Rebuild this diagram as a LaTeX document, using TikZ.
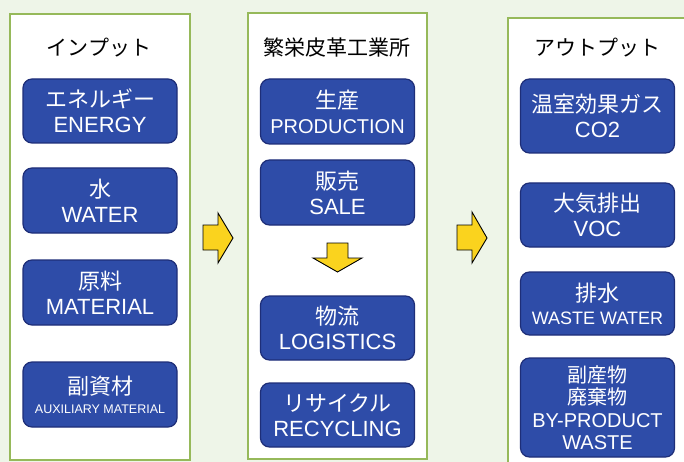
\documentclass[tikz,border=0pt]{standalone}
\usepackage{fontspec}
\setmainfont{Liberation Sans}
\newfontfamily\jpfont{Noto Sans CJK JP}
\definecolor{paper}{RGB}{238,245,232}
\definecolor{panelgreen}{RGB}{150,185,90}
\definecolor{itemblue}{RGB}{46,76,168}
\definecolor{itemedge}{RGB}{30,46,120}
\definecolor{arrowyellow}{RGB}{250,211,30}

\begin{document}
\begin{tikzpicture}[x=1pt,y=-1pt,
   panel/.style={draw=panelgreen,line width=1.2pt,fill=white},
   heading/.style={font=\jpfont\fontsize{21}{24}\selectfont},
   item/.style={draw=itemedge,line width=1.2pt,fill=itemblue,
     rounded corners=9pt,text=white,minimum width=154pt,inner sep=0pt,
     align=center,font=\fontsize{22}{25}\selectfont},
   blockarrow/.style={draw=black,line width=0.9pt,fill=arrowyellow}]
\useasboundingbox (0,0) rectangle (684,462);
\clip (0,0) rectangle (684,462);
\fill[paper] (0,0) rectangle (684,462);
% columns
\draw[panel] (10,14) rectangle (190,460);
\draw[panel] (248,13) rectangle (427,459);
\draw[panel] (508,18) rectangle (688,470);
\node[heading] (inhead) at (99,48) {インプット};
\node[heading] (plthead) at (337,48) {繁栄皮革工業所};
\node[heading] (outhead) at (597,48) {アウトプット};
% input
\node[item,minimum height=64pt] (energy) at (100,111)
   {{\jpfont エネルギー}\\ENERGY};
\node[item,minimum height=65pt] (water) at (100,200.5)
   {{\jpfont 水}\\WATER};
\node[item,minimum height=65pt] (material) at (100,292.5)
   {{\jpfont 原料}\\MATERIAL};
\node[item,minimum height=65pt] (auxiliary) at (100,394.5)
   {{\jpfont 副資材}\\[-6pt]{\fontsize{12.5}{15}\selectfont AUXILIARY MATERIAL}};
% plant
\node[item,minimum height=65pt] (production) at (337.5,111.5)
   {{\jpfont 生産}\\{\fontsize{20}{25}\selectfont PRODUCTION}};
\node[item,minimum height=65pt] (sale) at (337.5,192.5)
   {{\jpfont 販売}\\SALE};
\node[item,minimum height=64pt] (logistics) at (337.5,328)
   {{\jpfont 物流}\\LOGISTICS};
\node[item,minimum height=64pt] (recycling) at (337.5,415)
   {{\jpfont リサイクル}\\RECYCLING};
% output
\node[item,minimum height=74pt] (co2) at (597.5,116)
   {{\jpfont 温室効果ガス}\\CO2};
\node[item,minimum height=64pt] (voc) at (597.5,215)
   {{\jpfont 大気排出}\\VOC};
\node[item,minimum height=63pt] (wastewater) at (597.5,303.5)
   {{\jpfont 排水}\\[-2pt]{\fontsize{18}{22}\selectfont WASTE WATER}};
\node[item,minimum height=99pt,font=\fontsize{20}{22.5}\selectfont] (byproduct) at (597.5,407.5)
   {{\jpfont 副産物}\\{\jpfont 廃棄物}\\BY-PRODUCT\\WASTE};
% arrows
\draw[blockarrow] (203,225) -- (218,225) -- (218,213) -- (233,238)
   -- (218,263) -- (218,250) -- (203,250) -- cycle;
\draw[blockarrow] (457,225) -- (472,225) -- (472,212) -- (487,238)
   -- (472,263) -- (472,250) -- (457,250) -- cycle;
\draw[blockarrow] (327,243) -- (348,243) -- (348,258) -- (362,258)
   -- (337.5,272) -- (313,258) -- (327,258) -- cycle;
\end{tikzpicture}
\end{document}
